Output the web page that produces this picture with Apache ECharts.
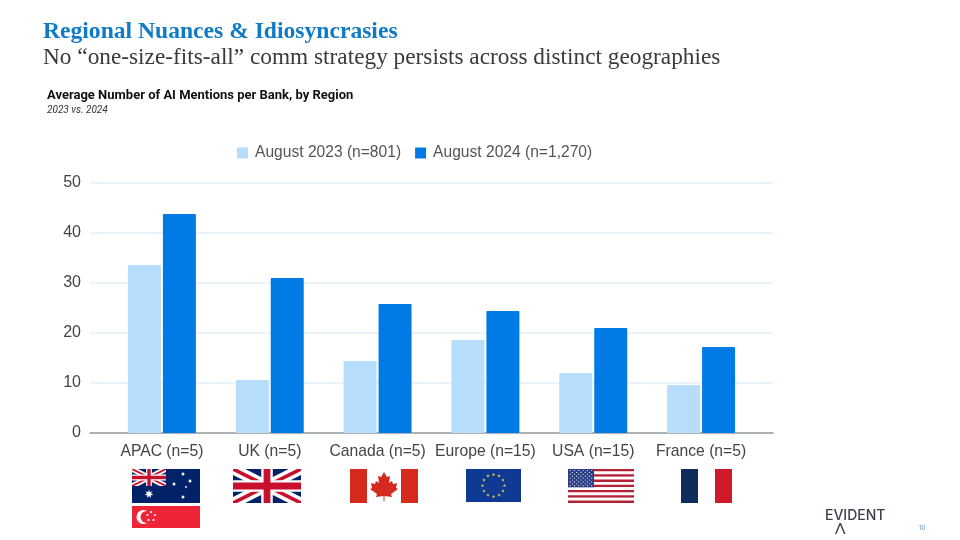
<!DOCTYPE html>
<html>
<head>
<meta charset="utf-8">
<title>Regional Nuances</title>
<script src="https://cdn.jsdelivr.net/npm/echarts@6/dist/echarts.min.js"></script>
<style>
html, body { margin: 0; padding: 0; background: #fff; }
#main { width: 960px; height: 540px; }
</style>
</head>
<body>
<div id="main"></div>
<script>
var categories = ['APAC (n=5)', 'UK (n=5)', 'Canada (n=5)', 'Europe (n=15)', 'USA (n=15)', 'France (n=5)'];
var seriesNames = ['August 2023 (n=801)', 'August 2024 (n=1,270)'];
var values2023 = [33.6, 10.6, 14.4, 18.6, 12, 9.6];
var values2024 = [43.8, 31, 25.8, 24.4, 21, 17.2];
var LIGHT = '#b7ddfd';
var DARK = '#007be5';
var NAVY = '#012169';
var RED = '#c8102e';

var gfx = [];
function rect(x, y, w, h, fill) {
    gfx.push({ type: 'rect', silent: true, shape: { x: x, y: y, width: w, height: h }, style: { fill: fill } });
}
function poly(points, fill) {
    gfx.push({ type: 'polygon', silent: true, shape: { points: points }, style: { fill: fill } });
}
function dot(cx, cy, r, fill) {
    gfx.push({ type: 'circle', silent: true, shape: { cx: cx, cy: cy, r: r }, style: { fill: fill } });
}
function star(cx, cy, r, fill, n) {
    n = n || 5;
    var pts = [];
    for (var i = 0; i < n * 2; i++) {
        var a = -Math.PI / 2 + i * Math.PI / n;
        var rr = i % 2 ? r * 0.45 : r;
        pts.push([cx + rr * Math.cos(a), cy + rr * Math.sin(a)]);
    }
    poly(pts, fill);
}
function label(text, x, y, font, fill, align) {
    gfx.push({
        type: 'text', silent: true, x: x, y: y,
        style: { text: text, font: font, fill: fill, align: align || 'left', verticalAlign: 'middle' }
    });
}

// diagonal band, corner to corner of the box
function diag(x, y, w, h, t, flip, fill) {
    var tx = t * w / h;
    var p = [[x, y], [x + tx, y], [x + w, y + h - t], [x + w, y + h], [x + w - tx, y + h], [x, y + t]];
    if (flip) p = p.map(function (q) { return [2 * x + w - q[0], q[1]]; });
    poly(p, fill);
}
function unionJack(x, y, w, h) {
    rect(x, y, w, h, NAVY);
    diag(x, y, w, h, h * 0.18, false, '#fff');
    diag(x, y, w, h, h * 0.18, true, '#fff');
    diag(x, y, w, h, h * 0.06, false, RED);
    diag(x, y, w, h, h * 0.06, true, RED);
    rect(x + w / 2 - h * 0.17, y, h * 0.34, h, '#fff');
    rect(x, y + h * 0.33, w, h * 0.34, '#fff');
    rect(x + w / 2 - h * 0.1, y, h * 0.2, h, RED);
    rect(x, y + h * 0.4, w, h * 0.2, RED);
}

// Australia
rect(132, 469, 68, 34, NAVY);
unionJack(132, 469, 34, 17);
star(149, 494, 4.5, '#fff', 7);
star(183, 474, 2.2, '#fff', 7);
star(174, 484, 2.2, '#fff', 7);
star(190, 481, 2.2, '#fff', 7);
star(186, 487, 1.4, '#fff', 5);
star(183, 497, 2.2, '#fff', 7);
// Singapore
rect(132, 506, 68, 22, '#ee2536');
dot(143.5, 517, 7, '#fff');
dot(146.5, 517, 6, '#ee2536');
[[151, 512], [155, 515], [153.5, 520], [148.5, 520], [147.5, 515]].forEach(function (p) { dot(p[0], p[1], 1.1, '#fff'); });
// UK
unionJack(233, 469, 68, 34);
// Canada
rect(350, 469, 17, 34, '#d52b1e');
rect(401, 469, 17, 34, '#d52b1e');
poly([[384, 472], [387, 477], [390, 476], [389, 483], [392, 481], [393, 484], [397, 483], [396, 488], [398, 489],
    [391, 494], [392, 497], [384.5, 496], [384.5, 501], [383.5, 501], [383.5, 496], [376, 497], [377, 494], [370, 489],
    [372, 488], [371, 483], [375, 484], [376, 481], [379, 483], [378, 476], [381, 477]], '#d52b1e');
// Europe
rect(466, 469, 55, 33, '#0f3a94');
for (var i = 0; i < 12; i++) {
    var a = i * Math.PI / 6;
    star(493.5 + 11 * Math.cos(a), 485.5 + 11 * Math.sin(a), 1.7, '#e9cf4a');
}
// USA
for (var s = 0; s < 13; s++) {
    rect(568, 469 + s * 34 / 13, 66, 34 / 13, s % 2 ? '#fff' : '#b22234');
}
rect(568, 469, 26, 18.3, '#2c3f86');
for (var row = 0; row < 9; row++) {
    var count = row % 2 ? 5 : 6;
    for (var c = 0; c < count; c++) {
        dot(570.2 + (row % 2 ? 2.15 : 0) + c * 4.3, 470.5 + row * 1.9, 0.6, '#e6e9f4');
    }
}
// France
rect(681, 469, 17, 34, '#0f2c5c');
rect(715, 469, 17, 34, '#cf1a2b');

// logo and page number
label('EVIDENT', 825, 516, '500 14px Inter', '#3b3f4c');
poly([[839.5, 523], [841, 523], [845.5, 534], [844, 534], [840.2, 525], [836.5, 534], [835, 534]], '#3b3f4c');
label('10', 919, 528, '6px Inter', '#4a90c8');

var option = {
    backgroundColor: '#fff',
    animation: false,
    title: [
        { text: 'Regional Nuances & Idiosyncrasies', left: 38, top: 15,
          textStyle: { fontFamily: 'Liberation Serif', fontSize: 23.6, fontWeight: 'bold', color: '#0f7ac6' } },
        { text: 'No “one-size-fits-all” comm strategy persists across distinct geographies', left: 38, top: 41,
          textStyle: { fontFamily: 'Liberation Serif', fontSize: 23.3, fontWeight: 'normal', color: '#3a3a3a' } },
        { text: 'Average Number of AI Mentions per Bank, by Region', left: 42, top: 84,
          textStyle: { fontFamily: 'Roboto', fontSize: 13, fontWeight: 'bold', color: '#111' } },
        { text: '2023 vs. 2024', left: 42, top: 100,
          textStyle: { fontFamily: 'Roboto', fontSize: 10, fontStyle: 'italic', fontWeight: 'normal', color: '#333' } }
    ],
    legend: {
        left: 232, top: 140, itemWidth: 11, itemHeight: 11, itemGap: 14,
        data: seriesNames,
        icon: 'rect',
        textStyle: { fontFamily: 'Liberation Sans', fontSize: 15.6, color: '#555', padding: [0, 0, 0, 2] }
    },
    grid: [
        { left: 90, right: 187, top: 183, bottom: 107 },
        { left: 108, right: 205, top: 183, bottom: 107 }
    ],
    xAxis: [
        { type: 'category', gridIndex: 0, data: categories,
          axisLine: { lineStyle: { color: '#9a9a9a', width: 1.5 } },
          axisTick: { show: false }, axisLabel: { show: false } },
        { type: 'category', gridIndex: 1, data: categories,
          axisLine: { show: false }, axisTick: { show: false },
          axisLabel: { interval: 0, margin: 11, fontFamily: 'Liberation Sans', fontSize: 15.7, color: '#444' } }
    ],
    yAxis: [
        { type: 'value', gridIndex: 0, min: 0, max: 50, interval: 10,
          axisLine: { show: false }, axisTick: { show: false },
          splitLine: { lineStyle: { color: '#e4f0f9', width: 1.5 } },
          axisLabel: { margin: 9, fontFamily: 'Liberation Sans', fontSize: 16, color: '#444' } },
        { type: 'value', gridIndex: 1, min: 0, max: 50, interval: 10, show: false, splitLine: { show: false } }
    ],
    series: [
        { name: seriesNames[0], type: 'bar', xAxisIndex: 1, yAxisIndex: 1, data: values2023,
          barWidth: 33, barGap: '6%', itemStyle: { color: LIGHT, borderRadius: 1 } },
        { name: seriesNames[1], type: 'bar', xAxisIndex: 1, yAxisIndex: 1, data: values2024,
          barWidth: 33, barGap: '6%', itemStyle: { color: DARK, borderRadius: 1 } }
    ],
    graphic: gfx
};
var chart = echarts.init(document.getElementById('main'));
chart.setOption(option);
</script>
</body>
</html>
